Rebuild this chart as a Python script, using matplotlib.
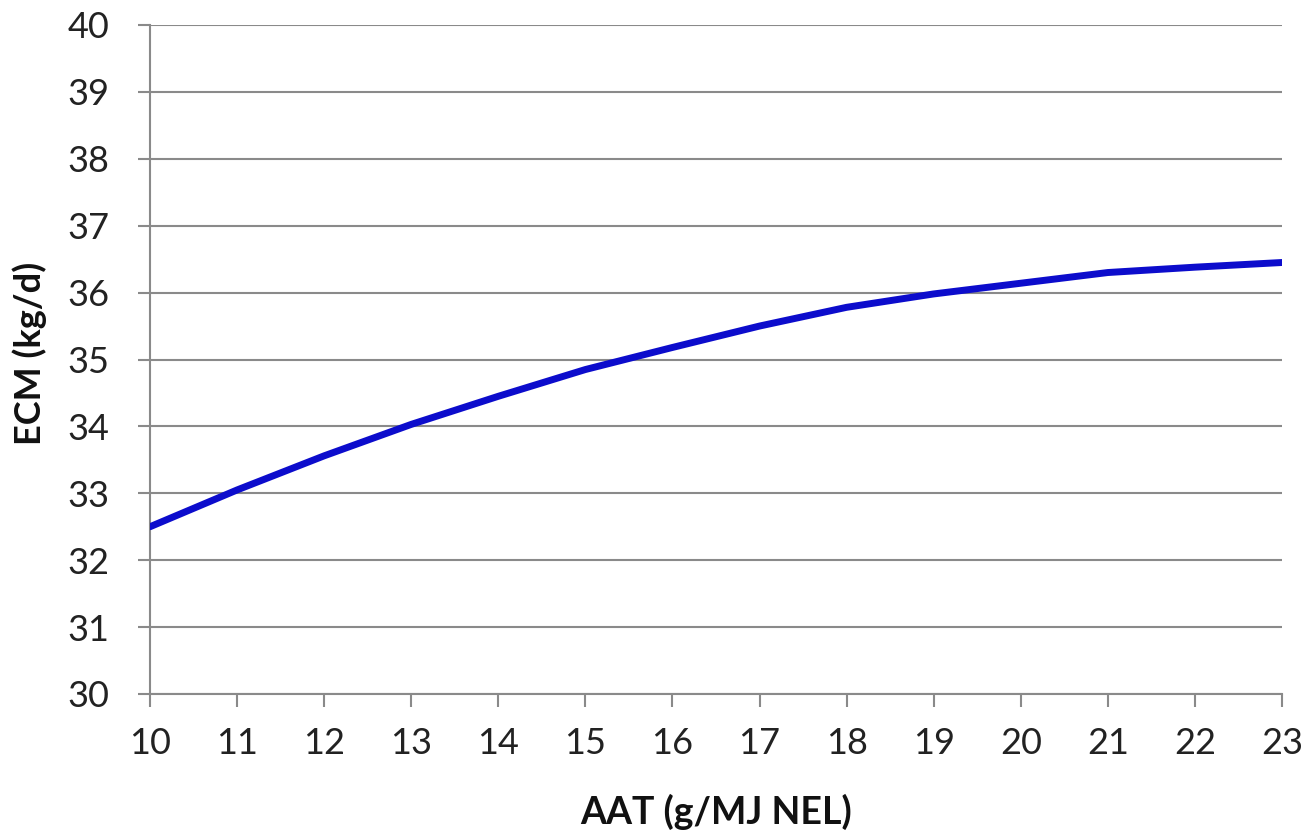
import matplotlib
matplotlib.use("Agg")
import matplotlib.pyplot as plt

aat = [10, 11, 12, 13, 14, 15, 16, 17, 18, 19, 20, 21, 22, 23]
ecm = [32.5, 33.05, 33.56, 34.03, 34.45, 34.85, 35.18, 35.5, 35.78, 35.98, 36.14, 36.3, 36.38, 36.45]
x_ticks = list(range(10, 24))
y_ticks = list(range(30, 41))

plt.rcParams['font.family'] = ['Lato', 'DejaVu Sans']

W, H = 1307, 839
fig = plt.figure(figsize=(W/100, H/100), dpi=100)
ax = fig.add_axes([150/W, 1-694/H, (1282-150)/W, (694-25)/H])

ax.plot(aat, ecm, color='#0c0ccc', linewidth=5, solid_capstyle='round', zorder=3)

ax.set_xlim(10, 23)
ax.set_ylim(30, 40)
ax.set_xticks(x_ticks)
ax.set_yticks(y_ticks)
ax.yaxis.grid(True, color='#8a8a8a', linewidth=1.5)
ax.set_axisbelow(True)

for s in ['top', 'right']:
    ax.spines[s].set_visible(False)
for s in ['left', 'bottom']:
    ax.spines[s].set_color('#8a8a8a')
    ax.spines[s].set_linewidth(1.5)

ax.tick_params(axis='x', direction='out', length=9.5, width=1.5, color='#8a8a8a',
               labelsize=26, labelcolor='#222222', pad=14)
ax.tick_params(axis='y', direction='out', length=9, width=1.5, color='#8a8a8a',
               labelsize=26, labelcolor='#222222', pad=20)

fig.text(716/W, 1-812/H, 'AAT (g/MJ NEL)', fontsize=27, fontweight='bold',
         color='#111111', ha='center', va='center')
fig.text(30/W, 1-353/H, 'ECM (kg/d)', fontsize=26, fontweight='bold',
         color='#111111', ha='center', va='center', rotation=90)

fig.savefig('out.png', dpi=100)
